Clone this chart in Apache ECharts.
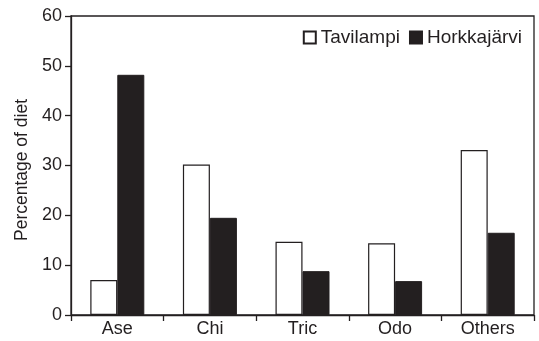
<!DOCTYPE html>
<html>
<head>
<meta charset="utf-8">
<script src="https://cdn.jsdelivr.net/npm/echarts@6/dist/echarts.min.js"></script>
<style>
  html, body { margin: 0; padding: 0; background: #fff; }
  #chart { width: 539px; height: 341px; }
</style>
</head>
<body>
<div id="chart"></div>
<script>
// Diet composition by prey group at two lakes
const categories = ['Ase', 'Chi', 'Tric', 'Odo', 'Others'];
const tavilampi = [7.0, 30.2, 14.7, 14.4, 33.1];
const horkkajarvi = [48.2, 19.5, 8.8, 6.8, 16.5];
const yTicks = [0, 10, 20, 30, 40, 50, 60];

const font = '"Liberation Sans", Arial, sans-serif';
const ink = '#231f20';

const chart = echarts.init(document.getElementById('chart'));
chart.setOption({
  animation: false,
  grid: {
    left: 71, right: 5, top: 16, bottom: 26,
    show: true, borderColor: ink, borderWidth: 1.3, backgroundColor: 'transparent'
  },
  legend: {
    right: 12, top: 23,
    itemWidth: 12, itemHeight: 12, itemGap: 9,
    icon: 'rect',
    textStyle: { fontFamily: font, fontSize: 19, color: ink },
    data: ['Tavilampi', 'Horkkajärvi']
  },
  xAxis: {
    type: 'category',
    data: categories,
    boundaryGap: true,
    axisLine: { lineStyle: { color: ink, width: 1.3 } },
    axisTick: { show: true, alignWithLabel: false, length: 6, lineStyle: { color: ink, width: 1.3 } },
    axisLabel: { fontFamily: font, fontSize: 18, color: ink, margin: 5 }
  },
  yAxis: {
    type: 'value',
    min: yTicks[0], max: yTicks[yTicks.length - 1], interval: 10,
    name: 'Percentage of diet',
    nameLocation: 'middle',
    nameGap: 35,
    nameTextStyle: { fontFamily: font, fontSize: 17.5, color: ink, padding: [0, 9, 0, 0] },
    axisLine: { show: true, lineStyle: { color: ink, width: 1.3 } },
    axisTick: { show: true, length: 6, lineStyle: { color: ink, width: 1.3 } },
    axisLabel: { fontFamily: font, fontSize: 18, color: ink, margin: 9 },
    splitLine: { show: false }
  },
  series: [
    {
      name: 'Tavilampi',
      type: 'bar',
      data: tavilampi,
      barWidth: 27,
      barGap: '0%',
      itemStyle: { color: '#ffffff', borderColor: ink, borderWidth: 1.2 }
    },
    {
      name: 'Horkkajärvi',
      type: 'bar',
      data: horkkajarvi,
      barWidth: 27,
      barGap: '0%',
      itemStyle: { color: ink, borderColor: ink, borderWidth: 1 }
    }
  ]
});
</script>
</body>
</html>
